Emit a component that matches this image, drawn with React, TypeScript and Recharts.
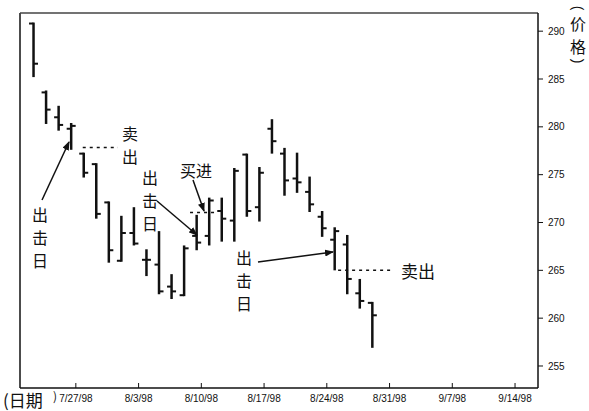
import { Bar, ComposedChart, ReferenceLine, XAxis, YAxis } from "recharts";

// trading days, one bar each
const dates = [
  "7/22", "7/23", "7/24", "7/27", "7/28", "7/29", "7/30", "7/31",
  "8/3", "8/4", "8/5", "8/6", "8/7", "8/10", "8/11", "8/12", "8/13", "8/14",
  "8/17", "8/18", "8/19", "8/20", "8/21", "8/24", "8/25", "8/26", "8/27", "8/28",
];
const opens = [
  290.8, 283.6, 281.0, 279.8, 277.2, 276.1, 272.1, 266.0,
  268.9, 266.1, 265.6, 263.3, 262.4, 268.6, 268.6, 271.2, 270.2, 277.1,
  271.6, 279.8, 277.2, 274.6, 273.2, 270.6, 268.2, 267.7, 262.6, 261.6,
];
const highs = [
  290.9, 283.8, 282.2, 280.4, 277.3, 276.2, 272.2, 270.7,
  271.6, 267.2, 269.1, 264.6, 267.6, 270.8, 272.6, 272.6, 275.7, 277.2,
  275.8, 280.8, 277.8, 277.3, 274.8, 271.2, 269.5, 268.7, 264.1, 261.7,
];
const lows = [
  285.2, 280.3, 279.6, 277.6, 274.7, 270.4, 265.8, 265.9,
  267.6, 264.4, 262.5, 262.0, 262.3, 267.1, 267.6, 268.0, 268.0, 270.6,
  270.1, 277.2, 272.8, 273.1, 271.1, 268.5, 265.0, 262.5, 261.0, 256.9,
];
const closes = [
  286.6, 281.8, 280.2, 280.1, 275.2, 270.9, 267.1, 268.9,
  267.8, 266.1, 262.8, 262.8, 267.3, 267.9, 272.3, 270.4, 275.4, 271.2,
  275.2, 278.5, 274.4, 274.2, 271.9, 269.4, 269.1, 264.1, 261.8, 260.3,
];

const tickDates = ["7/27/98", "8/3/98", "8/10/98", "8/17/98", "8/24/98", "8/31/98", "9/7/98", "9/14/98"];
const tickIndex = [3, 8, 13, 18, 23, 28, 33, 38];
const priceTicks = [255, 260, 265, 270, 275, 280, 285, 290];

// dotted stop / entry levels: [fromIdx, toIdx, price]
const levelLines = [
  [3.9, 6.7, 277.85],
  [12.45, 14.6, 271.05],
  [24.25, 28.45, 265.0],
];

const INK = "#111";
const TICK_SHIFT = 0.35;
const X_DOMAIN: [number, number] = [-1.1, 40.18];
const Y_DOMAIN: [number, number] = [252.7, 291.9];
const CJK = "'Noto Sans CJK SC', sans-serif";
const NUM = "'Liberation Sans', Arial, sans-serif";

const data = dates.map((date, i) => ({
  idx: i,
  date,
  open: opens[i],
  high: highs[i],
  low: lows[i],
  close: closes[i],
  range: [lows[i], highs[i]],
}));

function OhlcShape(props: any) {
  const { x, y, width, height, payload } = props;
  if (!payload || height == null) return null;
  const top = Math.min(y, y + height);
  const bottom = Math.max(y, y + height);
  const span = payload.high - payload.low || 1;
  const toY = (p: number) => top + ((payload.high - p) / span) * (bottom - top);
  const cx = x + width / 2;
  const yo = toY(payload.open);
  const yc = toY(payload.close);
  return (
    <g stroke={INK}>
      <line x1={cx} x2={cx} y1={top} y2={bottom} strokeWidth={2.5} />
      <line x1={cx - 4.5} x2={cx} y1={yo} y2={yo} strokeWidth={2} />
      <line x1={cx} x2={cx + 4.5} y1={yc} y2={yc} strokeWidth={2} />
    </g>
  );
}

function DateTick({ x, y, payload }: any) {
  const i = tickIndex.indexOf(Math.round(payload.value - TICK_SHIFT));
  return (
    <g>
      <line x1={x} x2={x} y1={y - 5} y2={y} stroke={INK} />
      <text x={x} y={y + 14} textAnchor="middle" fontSize={10} fill={INK} fontFamily={NUM}>
        {tickDates[i]}
      </text>
    </g>
  );
}

function VText({ x, y, chars, step = 23, size = 16 }: { x: number; y: number; chars: string; step?: number; size?: number }) {
  return (
    <g>
      {chars.split("").map((c, i) => (
        <text key={i} x={x} y={y + i * step} textAnchor="middle" dominantBaseline="central" fontSize={size} fill={INK} fontFamily={CJK}>
          {c}
        </text>
      ))}
    </g>
  );
}

function Annotations() {
  const arrows = [
    [42, 200, 69, 142],
    [157, 201, 197, 235],
    [193, 180, 204, 211],
    [258, 262, 333, 252],
  ];
  return (
    <svg width={589} height={411} style={{ position: "absolute", left: 0, top: 0, pointerEvents: "none" }}>
      <defs>
        <marker id="ah" markerWidth="9" markerHeight="7" refX="8" refY="3.5" orient="auto" markerUnits="userSpaceOnUse">
          <path d="M0,0 L9,3.5 L0,7 z" fill={INK} />
        </marker>
      </defs>
      {arrows.map(([x1, y1, x2, y2], i) => (
        <line key={i} x1={x1} y1={y1} x2={x2} y2={y2} stroke={INK} strokeWidth={1.5} markerEnd="url(#ah)" />
      ))}
      <VText x={130} y={133} chars="卖出" />
      <VText x={40} y={214} chars="出击日" />
      <VText x={150} y={177} chars="出击日" />
      <VText x={244} y={257} chars="出击日" />
      <text x={196} y={170} textAnchor="middle" dominantBaseline="central" fontSize={16} fill={INK} fontFamily={CJK}>买进</text>
      <text x={418} y={270} textAnchor="middle" dominantBaseline="central" fontSize={17} fill={INK} fontFamily={CJK}>卖出</text>
      {/* axis titles: rotated parentheses around vertical 价格 */}
      <g transform="translate(578 8) rotate(90)">
        <text x={0} y={0} textAnchor="middle" dominantBaseline="central" fontSize={14} fill={INK} fontFamily={NUM}>(</text>
      </g>
      <VText x={578} y={23} chars="价格" step={23} size={16} />
      <g transform="translate(578 61) rotate(90)">
        <text x={0} y={0} textAnchor="middle" dominantBaseline="central" fontSize={14} fill={INK} fontFamily={NUM}>)</text>
      </g>
      <text x={3} y={399} dominantBaseline="central" fontSize={17} fill={INK} fontFamily={CJK}>(日期</text>
      <text x={53} y={395} dominantBaseline="central" fontSize={12} fill={INK} fontFamily={CJK}>)</text>
    </svg>
  );
}

export default function App() {
  return (
    <div style={{ position: "absolute", left: 0, top: 0, width: 589, height: 411, background: "#fff" }}>
      <ComposedChart width={589} height={411} data={data} margin={{ top: 13, right: 6, bottom: 3, left: 20 }}>
        <XAxis
          dataKey="idx"
          type="number"
          domain={X_DOMAIN}
          allowDataOverflow
          ticks={tickIndex.map((t) => t + TICK_SHIFT)}
          tick={<DateTick />}
          tickSize={0}
          tickMargin={0}
          tickLine={false}
          height={20}
          axisLine={{ stroke: INK, strokeWidth: 1.5 }}
        />
        <YAxis
          orientation="right"
          domain={Y_DOMAIN}
          allowDataOverflow
          ticks={priceTicks}
          width={45}
          tickSize={5}
          tickMargin={5}
          tick={{ fill: INK, fontSize: 10, fontFamily: NUM }}
          tickLine={{ stroke: INK }}
          axisLine={{ stroke: INK, strokeWidth: 1.5 }}
        />
        <ReferenceLine x={X_DOMAIN[0]} stroke={INK} strokeWidth={1.5} />
        <ReferenceLine y={Y_DOMAIN[1]} stroke="#444" strokeWidth={1.5} />
        {levelLines.map(([a, b, p], i) => (
          <ReferenceLine
            key={i}
            segment={[{ x: a, y: p }, { x: b, y: p }]}
            stroke={INK}
            strokeWidth={1.5}
            strokeDasharray="3 4"
          />
        ))}
        <Bar dataKey="range" barSize={10} shape={<OhlcShape />} isAnimationActive={false} />
      </ComposedChart>
      <Annotations />
    </div>
  );
}
